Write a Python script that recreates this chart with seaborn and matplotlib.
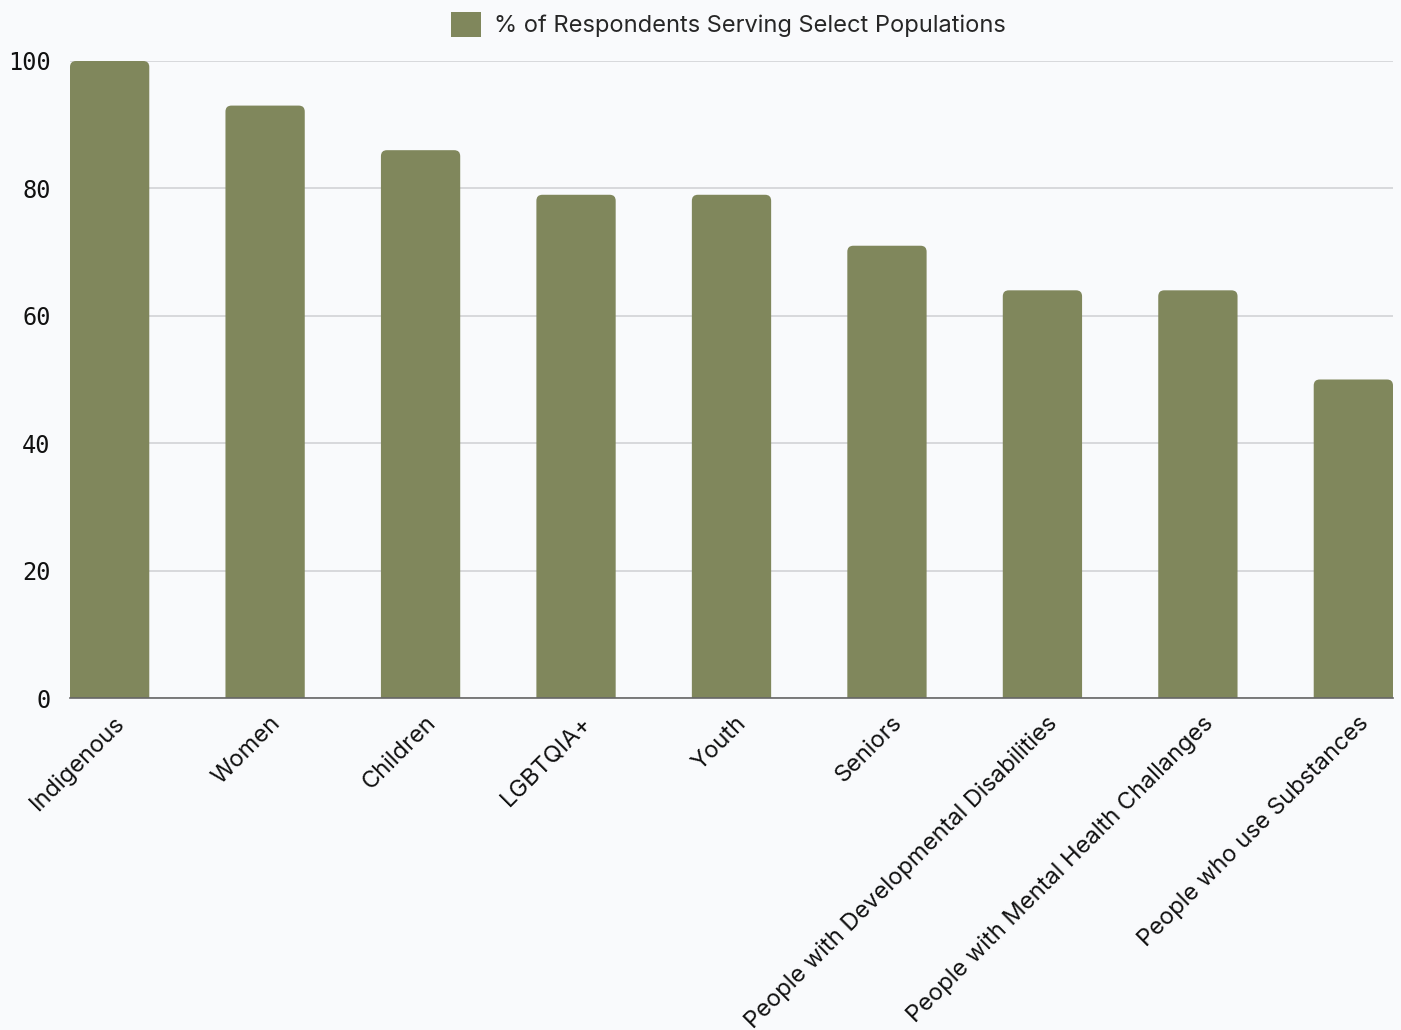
import matplotlib
matplotlib.use("Agg")
import matplotlib.pyplot as plt
import matplotlib.transforms as mtransforms
from matplotlib.patches import FancyBboxPatch, Patch
import seaborn as sns
import pandas as pd

categories = ["Indigenous", "Women", "Children", "LGBTQIA+", "Youth", "Seniors",
              "People with Developmental Disabilities",
              "People with Mental Health Challanges",
              "People who use Substances"]
values = [100, 93, 86, 79, 79, 71, 64, 64, 50]
series_label = "% of Respondents Serving Select Populations"
y_ticks = [0, 20, 40, 60, 80, 100]

BG = "#f9fafc"
BAR = "#80875c"

sns.set_theme(style="white")
plt.rcParams["font.family"] = ["Inter", "DejaVu Sans"]

df = pd.DataFrame({"category": categories, "value": values})

fig = plt.figure(figsize=(14.01, 10.30), dpi=100, facecolor=BG)
ax = fig.add_axes([70 / 1401, 1 - 698 / 1030, (1393 - 70) / 1401, (698 - 61) / 1030])
ax.set_facecolor(BG)

sns.barplot(data=df, x="category", y="value", color=BAR, width=0.51,
            saturation=1, label=series_label, ax=ax, zorder=2)

ax.set_ylim(0, 100)
ax.set_xlim(-0.255, len(categories) - 1 + 0.255)

# rounded top corners
fig.canvas.draw()
x_px = ax.bbox.width / (ax.get_xlim()[1] - ax.get_xlim()[0])
y_px = ax.bbox.height / (ax.get_ylim()[1] - ax.get_ylim()[0])
aspect = x_px / y_px
rad = 6 / x_px
for p in list(ax.patches):
    x, y = p.get_x(), p.get_y()
    w, h = p.get_width(), p.get_height()
    p.set_visible(False)
    fb = FancyBboxPatch((x, y - 3), w, h + 3,
                        boxstyle=f"round,pad=0,rounding_size={rad}",
                        mutation_aspect=aspect, facecolor=BAR, edgecolor="none",
                        zorder=2)
    ax.add_patch(fb)

ax.set_yticks(y_ticks)
ax.set_yticklabels([str(t) for t in y_ticks], family=["DejaVu Sans Mono"], fontsize=17)
ax.yaxis.grid(True, color="#d2d3d6", linewidth=1.2, zorder=0)
ax.set_axisbelow(True)
ax.tick_params(axis="y", length=0, pad=14, colors="#111111")
ax.tick_params(axis="x", length=0, pad=10)

for s in ["top", "right", "left"]:
    ax.spines[s].set_visible(False)
ax.spines["bottom"].set_color("#666666")
ax.spines["bottom"].set_linewidth(1.2)
ax.spines["bottom"].set_zorder(3)

ax.set_xlabel("")
ax.set_ylabel("")
offset = mtransforms.ScaledTranslation(4 / 100, 0, fig.dpi_scale_trans)
for lbl in ax.get_xticklabels():
    lbl.set_rotation(45)
    lbl.set_ha("right")
    lbl.set_va("top")
    lbl.set_rotation_mode("anchor")
    lbl.set_fontsize(17)
    lbl.set_color("#111111")
    lbl.set_transform(lbl.get_transform() + offset)

if ax.get_legend() is not None:
    ax.get_legend().remove()
handle = Patch(facecolor=BAR, edgecolor="none", label=series_label)
fig.legend(handles=[handle], loc="upper center", bbox_to_anchor=(0.52, 1.0),
           frameon=False, fontsize=17, handlelength=1.25, handleheight=1.25,
           handletextpad=0.55, borderaxespad=0.1)

fig.savefig("out.png", dpi=100, facecolor=BG)
